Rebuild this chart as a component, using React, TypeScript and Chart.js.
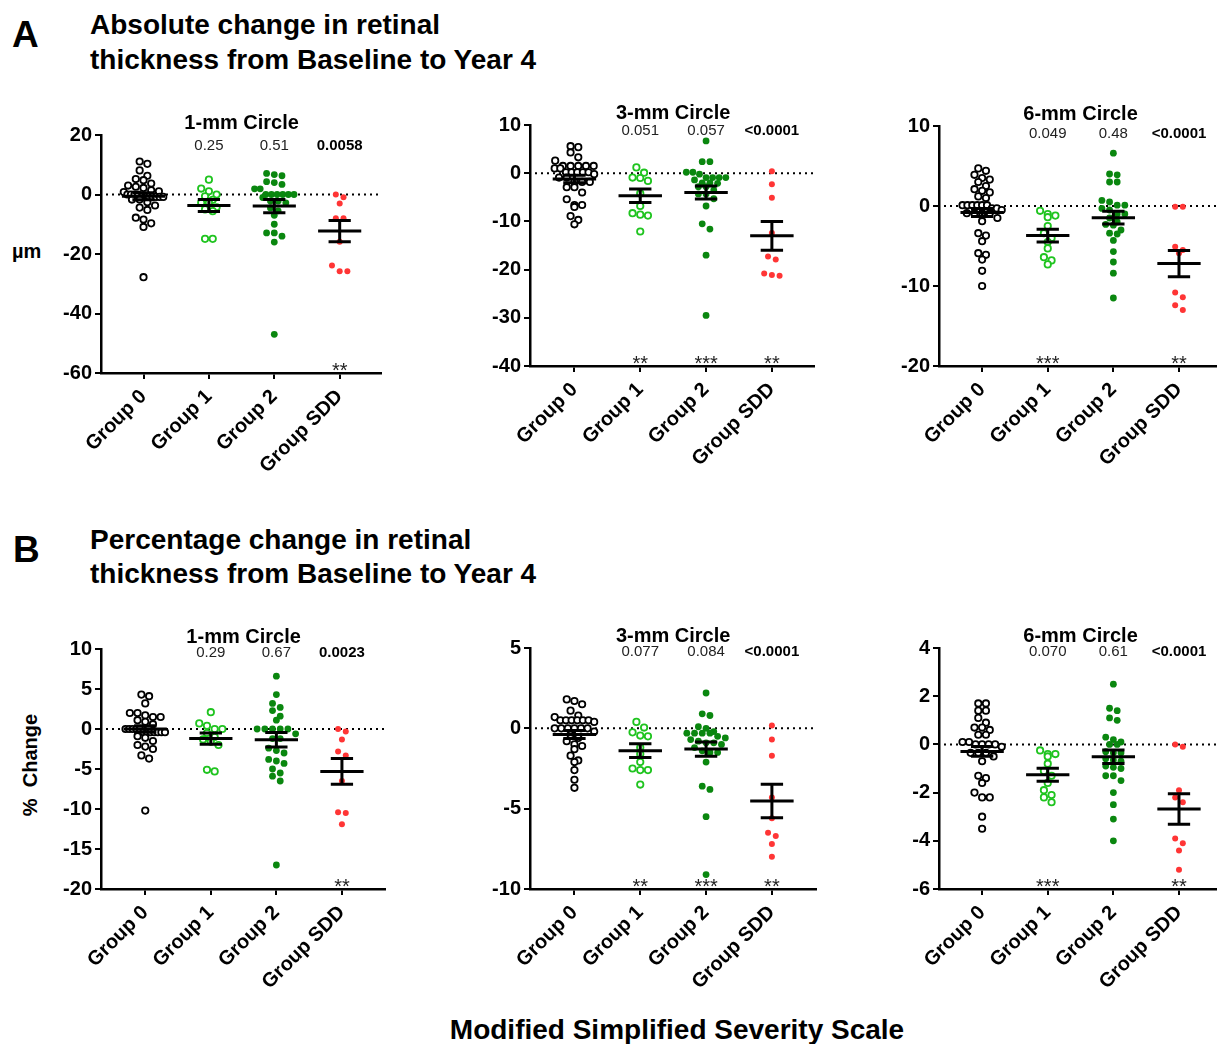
import React, { useEffect, useRef } from "react";
import { Chart, registerables } from "chart.js";

Chart.register(...registerables);

const FONT = "'Liberation Sans', Arial, Helvetica, sans-serif";
const GROUPS = ["Group 0", "Group 1", "Group 2", "Group SDD"];

// ---------- A: absolute change (µm) ----------
const absC1_g0 = [11.1, 10.3, 8.1, 6.3, 5.2, 4.8, 3.7, 3.0, 2.6, 2.2, 1.4, 1.1, 0.8, 0, 0, 0, 0, -0.8, -0.8, -0.8, -0.8, -0.8, -0.8, -0.8, -1.7, -1.7, -2.6, -3.7, -4.4, -5.2, -7.8, -8.4, -9.7, -10.9, -27.8];
const absC1_g1 = [5.0, 2.0, 1.1, 0, -0.6, -1.8, -2.8, -2.8, -4.3, -5.0, -5.6, -14.9, -14.9];
const absC1_g2 = [7.1, 6.7, 6.3, 4.3, 4.0, 3.4, 1.9, 1.9, 0, 0, 0, 0, 0, 0, -1.0, -2.2, -2.2, -2.8, -4.5, -5.5, -7.0, -10.0, -12.9, -12.9, -14.0, -16.0, -47.0];
const absC1_sdd = [0, -0.9, -3.0, -8.0, -8.0, -15.9, -23.9, -25.8, -25.8];
const absC1_mean = [-0.6, -3.7, -3.9, -12.3];
const absC1_sem = [1.2, 2.0, 2.2, 3.6];
const absC1_p = ["", "0.25", "0.51", "0.0058"];
const absC1_stars = ["", "", "", "**"];
const absC1_yTicks = [20, 0, -20, -40, -60];

const absC3_g0 = [5.6, 5.4, 4.3, 3.3, 2.6, 1.5, 1.5, 1.5, 1.5, 1.5, 1.0, 1.0, 0.2, 0.2, 0.2, 0.2, 0.2, -0.2, -0.9, -0.9, -1.8, -1.8, -1.8, -2.9, -2.9, -4.0, -5.4, -6.6, -6.6, -7.0, -8.9, -9.7, -10.6];
const absC3_g1 = [1.2, 0.1, -0.9, -1.0, -1.6, -4.2, -6.8, -8.3, -8.6, -8.8, -12.1];
const absC3_g2 = [6.7, 2.4, 2.4, 0.2, 0.2, -0.2, -0.9, -0.9, -0.9, -0.9, -1.4, -2.0, -2.0, -2.1, -2.8, -2.8, -3.5, -4.3, -4.3, -5.3, -6.8, -10.5, -11.6, -17.0, -29.5];
const absC3_sdd = [0.4, -2.3, -5.1, -12.4, -17.3, -17.9, -20.8, -21.1, -21.3];
const absC3_mean = [-1.2, -4.7, -4.0, -13.0];
const absC3_sem = [0.8, 1.4, 1.35, 3.0];
const absC3_p = ["", "0.051", "0.057", "<0.0001"];
const absC3_stars = ["", "**", "***", "**"];
const absC3_yTicks = [10, 0, -10, -20, -30, -40];

const absC6_g0 = [4.7, 4.4, 3.9, 3.5, 3.3, 3.0, 2.5, 2.1, 1.9, 1.7, 1.2, 1.0, 0.1, 0.1, 0.1, 0.1, 0.1, 0.1, -0.3, -0.3, -0.5, -0.9, -0.9, -0.9, -0.9, -1.5, -1.9, -3.4, -3.7, -4.4, -5.9, -6.1, -6.7, -8.1, -10.0];
const absC6_g1 = [-0.6, -1.0, -1.2, -1.4, -2.5, -3.4, -4.0, -4.5, -5.3, -6.4, -6.8, -7.3];
const absC6_g2 = [6.6, 4.0, 3.9, 3.0, 3.0, 0.7, 0.5, 0.1, 0.1, -0.3, -0.5, -1.0, -1.0, -1.5, -2.0, -2.3, -2.4, -3.0, -3.4, -3.5, -4.3, -5.7, -7.0, -8.4, -11.5];
const absC6_sdd = [-0.1, -0.1, -5.1, -5.5, -5.9, -10.8, -11.4, -12.4, -13.0];
const absC6_mean = [-0.8, -3.7, -1.46, -7.2];
const absC6_sem = [0.5, 0.8, 0.8, 1.65];
const absC6_p = ["", "0.049", "0.48", "<0.0001"];
const absC6_stars = ["", "***", "", "**"];
const absC6_yTicks = [10, 0, -10, -20];

// ---------- B: percentage change ----------
const pctC1_g0 = [4.3, 4.1, 3.2, 2.0, 2.0, 1.7, 1.5, 1.5, 1.1, 0.9, 0.6, 0, 0, 0, 0, 0, -0.4, -0.4, -0.4, -0.4, -0.4, -0.4, -0.4, -0.9, -1.1, -1.5, -2.0, -2.2, -2.5, -3.3, -3.7, -10.2];
const pctC1_g1 = [2.1, 0.7, 0.4, 0, 0, -0.5, -1.0, -1.3, -1.6, -2.0, -5.1, -5.3];
const pctC1_g2 = [6.6, 4.3, 3.2, 2.7, 2.3, 1.6, 1.1, 0, 0, 0, 0, 0, -0.6, -1.2, -1.2, -2.4, -2.7, -3.0, -3.8, -4.0, -4.3, -5.0, -5.5, -5.9, -6.5, -17.0];
const pctC1_sdd = [0, -0.3, -1.3, -2.8, -3.3, -6.5, -10.4, -10.5, -11.9];
const pctC1_mean = [0.0, -1.2, -1.35, -5.3];
const pctC1_sem = [0.4, 0.7, 0.9, 1.6];
const pctC1_p = ["", "0.29", "0.67", "0.0023"];
const pctC1_stars = ["", "", "", "**"];
const pctC1_yTicks = [10, 5, 0, -5, -10, -15, -20];

const pctC3_g0 = [1.8, 1.7, 1.5, 1.1, 0.8, 0.7, 0.5, 0.5, 0.5, 0.5, 0.5, 0.5, 0.4, 0, 0, 0, 0, 0, 0, -0.2, -0.4, -0.6, -0.8, -1.0, -1.1, -1.3, -1.7, -2.0, -2.1, -2.6, -3.2, -3.7];
const pctC3_g1 = [0.4, 0.05, -0.25, -0.45, -0.5, -1.2, -1.6, -2.1, -2.5, -2.6, -2.6, -3.5];
const pctC3_g2 = [2.2, 0.9, 0.8, 0.1, 0, -0.2, -0.3, -0.3, -0.3, -0.3, -0.5, -0.6, -0.7, -0.8, -0.9, -0.9, -1.0, -1.2, -1.4, -1.5, -1.5, -2.1, -3.6, -3.8, -5.5, -9.1];
const pctC3_sdd = [0.17, -0.7, -1.7, -4.3, -5.6, -6.5, -6.7, -7.2, -8.0];
const pctC3_mean = [-0.39, -1.39, -1.29, -4.52];
const pctC3_sem = [0.25, 0.43, 0.44, 1.04];
const pctC3_p = ["", "0.077", "0.084", "<0.0001"];
const pctC3_stars = ["", "**", "***", "**"];
const pctC3_yTicks = [5, 0, -5, -10];

const pctC6_g0 = [1.7, 1.7, 1.4, 1.4, 1.1, 0.9, 0.7, 0.7, 0.6, 0.4, 0.4, 0.1, 0.1, 0, 0, 0, 0, -0.1, -0.35, -0.35, -0.35, -0.5, -0.7, -1.3, -1.4, -1.6, -2.0, -2.2, -2.2, -3.0, -3.5];
const pctC6_g1 = [-0.25, -0.4, -0.4, -0.5, -0.8, -1.1, -1.3, -1.6, -1.9, -2.1, -2.2, -2.4];
const pctC6_g2 = [2.5, 1.5, 1.4, 1.1, 1.0, 0.3, 0.2, 0.1, 0, 0, -0.3, -0.35, -0.35, -0.6, -0.65, -0.7, -0.9, -0.95, -1.0, -1.3, -1.3, -1.5, -2.0, -2.5, -3.1, -4.0];
const pctC6_sdd = [0, -0.1, -1.9, -2.2, -2.4, -3.9, -4.1, -4.4, -5.2];
const pctC6_mean = [-0.29, -1.26, -0.51, -2.68];
const pctC6_sem = [0.2, 0.27, 0.28, 0.63];
const pctC6_p = ["", "0.070", "0.61", "<0.0001"];
const pctC6_stars = ["", "***", "", "**"];
const pctC6_yTicks = [4, 2, 0, -2, -4, -6];

type Panel = {
  title: string;
  series: number[][];
  mean: number[];
  sem: number[];
  p: string[];
  stars: string[];
  yTicks: number[];
};

const PANELS: Panel[] = [
  { title: "1-mm Circle", series: [absC1_g0, absC1_g1, absC1_g2, absC1_sdd], mean: absC1_mean, sem: absC1_sem, p: absC1_p, stars: absC1_stars, yTicks: absC1_yTicks },
  { title: "3-mm Circle", series: [absC3_g0, absC3_g1, absC3_g2, absC3_sdd], mean: absC3_mean, sem: absC3_sem, p: absC3_p, stars: absC3_stars, yTicks: absC3_yTicks },
  { title: "6-mm Circle", series: [absC6_g0, absC6_g1, absC6_g2, absC6_sdd], mean: absC6_mean, sem: absC6_sem, p: absC6_p, stars: absC6_stars, yTicks: absC6_yTicks },
  { title: "1-mm Circle", series: [pctC1_g0, pctC1_g1, pctC1_g2, pctC1_sdd], mean: pctC1_mean, sem: pctC1_sem, p: pctC1_p, stars: pctC1_stars, yTicks: pctC1_yTicks },
  { title: "3-mm Circle", series: [pctC3_g0, pctC3_g1, pctC3_g2, pctC3_sdd], mean: pctC3_mean, sem: pctC3_sem, p: pctC3_p, stars: pctC3_stars, yTicks: pctC3_yTicks },
  { title: "6-mm Circle", series: [pctC6_g0, pctC6_g1, pctC6_g2, pctC6_sdd], mean: pctC6_mean, sem: pctC6_sem, p: pctC6_p, stars: pctC6_stars, yTicks: pctC6_yTicks },
];

// layout (page pixels of each plot area)
type Layout = { left: number; right: number; top: number; bottom: number; xMin: number; xMax: number; pOff: number; padRight: number };
const LAYOUT: Layout[] = [
  { left: 101, right: 385, top: 135, bottom: 373, xMin: -0.65, xMax: 3.635, pOff: 15, padRight: 2 },
  { left: 530, right: 818, top: 125, bottom: 366, xMin: -0.675, xMax: 3.643, pOff: 10, padRight: 2 },
  { left: 939, right: 1222, top: 126, bottom: 366, xMin: -0.657, xMax: 3.567, pOff: 12, padRight: 0 },
  { left: 101, right: 389, top: 649, bottom: 889, xMin: -0.675, xMax: 3.66, pOff: 8, padRight: 2 },
  { left: 530, right: 820, top: 648, bottom: 889, xMin: -0.675, xMax: 3.673, pOff: 8, padRight: 2 },
  { left: 939, right: 1222, top: 648, bottom: 889, xMin: -0.657, xMax: 3.567, pOff: 8, padRight: 0 },
];

const YW = 60;
const PT = 40;
const XH = 112;

const STYLES = [
  { stroke: "#000000", fill: "#ffffff", r: 3.2, bw: 1.8 },
  { stroke: "#1fc41f", fill: "#ffffff", r: 3.2, bw: 1.8 },
  { stroke: "#0a870f", fill: "#0a870f", r: 3.4, bw: 0 },
  { stroke: "#ff3535", fill: "#ff3535", r: 3.0, bw: 0 },
];

// GraphPad-like scatter: points with near-equal values share a centred row
function swarm(values: number[], pxPerUnit: number, pxPerCat: number): number[] {
  const idx = values.map((_, i) => i).sort((a, b) => values[b] - values[a]);
  const offsets = new Array(values.length).fill(0);
  let row: number[] = [];
  const flush = () => {
    const n = row.length;
    const sp = Math.min(7.8, 40 / Math.max(n - 1, 1));
    row.forEach((k, j) => {
      offsets[k] = ((j - (n - 1) / 2) * sp) / pxPerCat;
    });
    row = [];
  };
  for (const k of idx) {
    if (row.length && (values[row[0]] - values[k]) * pxPerUnit > 6) flush();
    row.push(k);
  }
  flush();
  return offsets;
}

function makeChart(canvas: HTMLCanvasElement, p: Panel, L: Layout) {
  const yMax = Math.max(...p.yTicks);
  const yMin = Math.min(...p.yTicks);
  const pxPerUnit = (L.bottom - L.top) / (yMax - yMin);
  const pxPerCat = (L.right - L.left) / (L.xMax - L.xMin);

  const datasets = p.series.map((vals, gi) => {
    const offs = swarm(vals, pxPerUnit, pxPerCat);
    const st = STYLES[gi];
    return {
      label: GROUPS[gi],
      data: vals.map((v, k) => ({ x: gi + offs[k], y: v })),
      pointRadius: st.r,
      pointBorderWidth: st.bw,
      pointBackgroundColor: st.fill,
      pointBorderColor: st.stroke,
      showLine: false,
    };
  });

  const overlay = {
    id: "overlay",
    beforeDatasetsDraw(chart: any) {
      const { ctx, chartArea } = chart;
      const y = chart.scales.y;
      const y0 = y.getPixelForValue(0);
      ctx.save();
      ctx.strokeStyle = "#000";
      ctx.lineWidth = 2;
      ctx.setLineDash([2, 4]);
      ctx.beginPath();
      ctx.moveTo(chartArea.left + 5, y0);
      ctx.lineTo(chartArea.right, y0);
      ctx.stroke();
      ctx.restore();
    },
    afterDatasetsDraw(chart: any) {
      const { ctx, chartArea } = chart;
      const x = chart.scales.x;
      const y = chart.scales.y;
      ctx.save();
      ctx.strokeStyle = "#000";
      ctx.lineWidth = 3;
      ctx.lineCap = "butt";
      p.mean.forEach((m, i) => {
        const cx = x.getPixelForValue(i);
        const wMean = x.getPixelForValue(i + 0.33) - cx;
        const wCap = x.getPixelForValue(i + 0.17) - cx;
        const ym = y.getPixelForValue(m);
        const yHi = y.getPixelForValue(m + p.sem[i]);
        const yLo = y.getPixelForValue(m - p.sem[i]);
        ctx.beginPath();
        ctx.moveTo(cx - wMean, ym);
        ctx.lineTo(cx + wMean, ym);
        ctx.moveTo(cx, yHi);
        ctx.lineTo(cx, yLo);
        ctx.moveTo(cx - wCap, yHi);
        ctx.lineTo(cx + wCap, yHi);
        ctx.moveTo(cx - wCap, yLo);
        ctx.lineTo(cx + wCap, yLo);
        ctx.stroke();
      });
      // title
      ctx.fillStyle = "#000";
      ctx.textAlign = "center";
      ctx.textBaseline = "alphabetic";
      ctx.font = `bold 20px ${FONT}`;
      ctx.fillText(p.title, x.getPixelForValue(1.5), chartArea.top - 6);
      // p-values
      p.p.forEach((t, i) => {
        if (!t) return;
        ctx.font = i === 3 ? `bold 15px ${FONT}` : `15px ${FONT}`;
        ctx.fillStyle = i === 3 ? "#000" : "#222";
        ctx.fillText(t, x.getPixelForValue(i), chartArea.top + L.pOff);
      });
      // significance stars
      ctx.font = `20px ${FONT}`;
      ctx.fillStyle = "#222";
      p.stars.forEach((t, i) => {
        if (!t) return;
        ctx.fillText(t, x.getPixelForValue(i), chartArea.bottom + 4);
      });
      ctx.restore();
    },
  };

  return new Chart(canvas, {
    type: "scatter",
    data: { datasets: datasets as any },
    options: {
      responsive: false,
      animation: false,
      events: [],
      layout: { padding: { top: PT, right: L.padRight, left: 0, bottom: 0 } },
      plugins: { legend: { display: false }, tooltip: { enabled: false }, title: { display: false } },
      scales: {
        x: {
          type: "linear",
          min: L.xMin,
          max: L.xMax,
          afterBuildTicks: (s: any) => {
            s.ticks = GROUPS.map((_, i) => ({ value: i }));
          },
          afterFit: (s: any) => {
            s.height = XH;
          },
          ticks: {
            autoSkip: false,
            minRotation: 45,
            maxRotation: 45,
            padding: 6,
            color: "#000",
            font: { family: FONT, size: 20, weight: "bold" },
            callback: (v: any) => GROUPS[Math.round(Number(v))] ?? "",
          },
          grid: { drawOnChartArea: false, drawTicks: true, tickLength: 6, color: "#000", lineWidth: 2 },
          border: { display: true, color: "#000", width: 2.5 },
        },
        y: {
          type: "linear",
          min: yMin,
          max: yMax,
          afterBuildTicks: (s: any) => {
            s.ticks = p.yTicks.map((v) => ({ value: v }));
          },
          afterFit: (s: any) => {
            s.width = YW;
          },
          ticks: {
            padding: 3,
            color: "#000",
            font: { family: FONT, size: 20, weight: "bold" },
            callback: (v: any) => String(v),
          },
          grid: { drawOnChartArea: false, drawTicks: true, tickLength: 6, color: "#000", lineWidth: 2 },
          border: { display: true, color: "#000", width: 2.5 },
        },
      },
    } as any,
    plugins: [overlay as any],
  });
}

const txt = (fs: number, extra: React.CSSProperties): React.CSSProperties => ({
  position: "absolute",
  fontFamily: FONT,
  fontWeight: "bold",
  fontSize: fs,
  lineHeight: `${fs}px`,
  whiteSpace: "nowrap",
  color: "#000",
  ...extra,
});

export default function App() {
  const refs = useRef<(HTMLCanvasElement | null)[]>([]);
  useEffect(() => {
    const charts = PANELS.map((p, i) => makeChart(refs.current[i] as HTMLCanvasElement, p, LAYOUT[i]));
    return () => charts.forEach((c) => c.destroy());
  }, []);

  return (
    <div style={{ position: "absolute", left: 0, top: 0, width: 1222, height: 1044, overflow: "hidden", background: "#fff" }}>
      <div style={txt(37, { left: 12, top: 16 })}>A</div>
      <div style={txt(28, { left: 90, top: 11 })}>Absolute change in retinal</div>
      <div style={txt(28, { left: 90, top: 46 })}>thickness from Baseline to Year 4</div>
      <div style={txt(37, { left: 13, top: 531 })}>B</div>
      <div style={txt(28, { left: 90, top: 526 })}>Percentage change in retinal</div>
      <div style={txt(28, { left: 90, top: 560 })}>thickness from Baseline to Year 4</div>
      <div style={txt(20, { left: 12, top: 241 })}>µm</div>
      <div style={txt(20, { left: 30, top: 765, transform: "translate(-50%, -50%) rotate(-90deg)" })}>%&nbsp; Change</div>
      <div style={txt(28, { left: 677, top: 1016, transform: "translateX(-50%)" })}>Modified Simplified Severity Scale</div>
      {LAYOUT.map((L, i) => {
        const w = YW + (L.right - L.left) + L.padRight;
        const h = PT + (L.bottom - L.top) + XH;
        return (
          <canvas
            key={i}
            ref={(el) => {
              refs.current[i] = el;
            }}
            width={w}
            height={h}
            style={{ position: "absolute", left: L.left - YW, top: L.top - PT, width: w, height: h }}
          />
        );
      })}
    </div>
  );
}
